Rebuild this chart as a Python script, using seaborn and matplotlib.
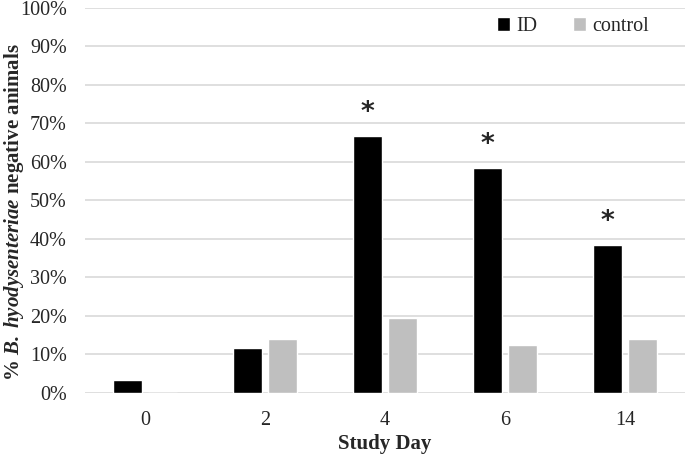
import matplotlib
matplotlib.use("Agg")
import matplotlib.pyplot as plt
import pandas as pd
import seaborn as sns
from matplotlib.ticker import PercentFormatter

# values (% negative animals)
days = ["0", "2", "4", "6", "14"]
id_vals = [3.4, 11.8, 66.7, 58.3, 38.4]
control_vals = [0.0, 14.1, 19.4, 12.5, 14.1]
significant = [False, False, True, True, True]

df = pd.DataFrame({
    "day": days * 2,
    "value": id_vals + control_vals,
    "group": ["ID"] * len(days) + ["control"] * len(days),
})

sns.set_style("white")
plt.rcParams["font.family"] = ["Liberation Serif", "DejaVu Serif"]
plt.rcParams["mathtext.fontset"] = "custom"
plt.rcParams["mathtext.rm"] = "Liberation Serif"
plt.rcParams["mathtext.bf"] = "Liberation Serif:bold"
plt.rcParams["mathtext.bfit"] = "Liberation Serif:italic:bold"
plt.rcParams["mathtext.it"] = "Liberation Serif:italic"

fig = plt.figure(figsize=(6.85, 4.58), dpi=100)
ax = fig.add_axes([0.124, 0.142, 0.876, 0.841])

sns.barplot(data=df, x="day", y="value", hue="group", order=days,
            palette={"ID": "#000000", "control": "#bfbfbf"},
            width=0.575, gap=0.17, ax=ax, zorder=3)

# asterisks over significant ID bars
for bar, sig in zip(ax.containers[0], significant):
    if sig:
        ax.text(bar.get_x() + bar.get_width() / 2, bar.get_height() + 6, "*",
                ha="center", va="center", fontsize=19, fontweight="bold",
                family="DejaVu Sans")

ax.set_ylim(0, 100)
ax.set_yticks(range(0, 101, 10))
ax.yaxis.set_major_formatter(PercentFormatter(decimals=0))
ax.grid(axis="y", color="#d9d9d9", linewidth=1.2, zorder=0)
ax.set_axisbelow(True)
for s in ax.spines.values():
    s.set_visible(False)
ax.tick_params(axis="both", length=0, labelsize=14.5)
ax.tick_params(axis="y", pad=13)
ax.tick_params(axis="x", pad=13)

ax.set_xlabel("Study Day", fontsize=15, fontweight="bold", labelpad=3)
ax.set_ylabel(r"% $\mathbfit{B.\ hyodysenteriae}$ negative animals",
              fontsize=15, fontweight="bold")
ax.yaxis.set_label_coords(-0.099, 0.47)

leg = ax.legend(loc="center right", ncol=2, frameon=False, fontsize=14.5,
                handlelength=0.65, handleheight=0.65, handletextpad=0.3,
                columnspacing=1.8, borderaxespad=0, borderpad=0,
                bbox_to_anchor=(0.94, 0.951))

fig.savefig("out.png", dpi=100)
